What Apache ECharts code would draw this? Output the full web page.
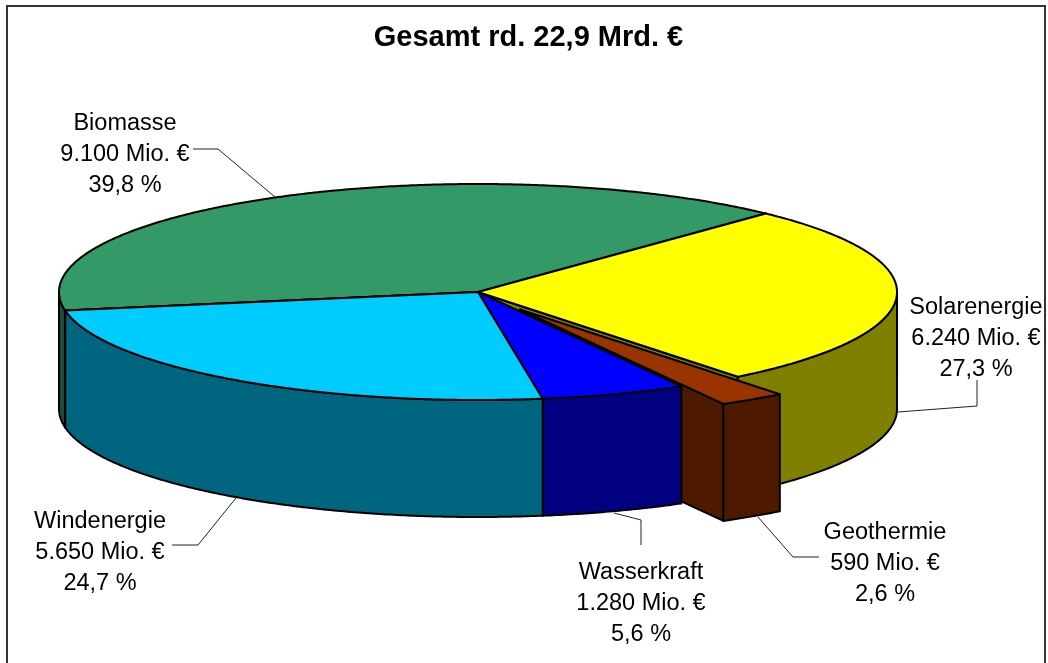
<!DOCTYPE html>
<html>
<head>
<meta charset="utf-8">
<style>html,body{margin:0;padding:0;background:#fff}#chart{width:1048px;height:663px}</style>
<script src="https://cdn.jsdelivr.net/npm/echarts@6/dist/echarts.min.js"></script>
</head>
<body>
<div id="chart"></div>
<script>
// Data
var titleText = 'Gesamt rd. 22,9 Mrd. €';
var categories = ['Biomasse', 'Solarenergie', 'Geothermie', 'Wasserkraft', 'Windenergie'];
var valuesMio = [9100, 6240, 590, 1280, 5650];
var exploded = [0, 0, 1, 0, 0];

// Styles
var topColors = ['#339966', '#FFFF00', '#993300', '#0000FF', '#00CCFF'];
var sideColors = ['#1A4D33', '#808000', '#4D1A00', '#000080', '#006680'];

// Layout of the projected pie
var cx = 478, cy = 292, rx = 419, ry = 108, depth = 117, startAngle = 189.9;
var explodeDx = 42, explodeDy = 17.5;
var labelPos = [[125, 155], [976, 339], [885, 564], [641, 604], [100, 553]];
var leaders = [
  [[193, 149], [218, 149], [275, 197]],
  [[977, 380], [977, 406], [898, 412]],
  [[819, 557], [793, 557], [758, 517]],
  [[641, 545], [641, 520], [614, 513]],
  [[172, 545], [198, 545], [236, 498]]
];

var total = valuesMio.reduce(function (a, b) { return a + b; }, 0);
function fmtValue(v) { return String(v).replace(/\B(?=(\d{3})+$)/g, '.') + ' Mio. €'; }
function fmtPct(v) { return (v / total * 100).toFixed(1).replace('.', ',') + ' %'; }

var slices = [];
(function () {
  var a = startAngle;
  valuesMio.forEach(function (v) {
    var b = a - v / total * 360;
    slices.push([a, b]);
    a = b;
  });
})();

function pt(deg, ox, oy) {
  var t = deg * Math.PI / 180;
  return [cx + ox + rx * Math.cos(t), cy + oy - ry * Math.sin(t)];
}
function arc(from, to, ox, oy) {
  var pts = [], n = Math.max(2, Math.ceil(Math.abs(from - to) / 0.5));
  for (var i = 0; i <= n; i++) pts.push(pt(from + (to - from) * i / n, ox, oy));
  return pts;
}
function down(points) {
  return points.map(function (p) { return [p[0], p[1] + depth]; });
}
function visibleRange(a, b) {
  // a > b, clockwise sweep; the rim is seen where the sine is negative
  var ranges = [[0, -180], [360, 180]], out = null;
  ranges.forEach(function (r) {
    var hi = Math.min(a, r[0]), lo = Math.max(b, r[1]);
    if (hi > lo) out = [hi, lo];
  });
  return out;
}
function poly(points, fill) {
  return {
    type: 'polygon',
    shape: { points: points },
    style: { fill: fill, stroke: '#000', lineWidth: 2, lineJoin: 'round' }
  };
}

var option = {
  animation: false,
  backgroundColor: '#fff',
  title: {
    text: titleText, left: 528, top: 18, textAlign: 'center',
    textStyle: { fontFamily: 'Liberation Sans', fontSize: 29, fontWeight: 'bold', color: '#000' }
  },
  graphic: [{
    type: 'rect', silent: true, z: 0,
    shape: { x: 7, y: 6, width: 1038, height: 720 },
    style: { fill: 'none', stroke: '#333', lineWidth: 2 }
  }],
  series: [{
    type: 'custom',
    coordinateSystem: 'none',
    silent: true,
    clip: false,
    data: valuesMio,
    renderItem: function (params) {
      var i = params.dataIndex, s = slices[i];
      var ox = exploded[i] ? explodeDx : 0, oy = exploded[i] ? explodeDy : 0;
      var apex = [cx + ox, cy + oy];
      var children = [];
      // cut face at the clockwise end of the slice
      var e = pt(s[1], ox, oy);
      children.push(poly([apex, e, [e[0], e[1] + depth], [apex[0], apex[1] + depth]], sideColors[i]));
      // visible part of the rim
      var v = visibleRange(s[0], s[1]);
      if (v) {
        var rim = arc(v[0], v[1], ox, oy);
        children.push(poly(rim.concat(down(rim).reverse()), sideColors[i]));
      }
      // top surface
      children.push(poly([apex].concat(arc(s[0], s[1], ox, oy)), topColors[i]));
      return { type: 'group', children: children };
    },
    z: 2
  }, {
    type: 'custom',
    coordinateSystem: 'none',
    silent: true,
    clip: false,
    data: categories,
    renderItem: function (params) {
      var i = params.dataIndex;
      return {
        type: 'group',
        children: [{
          type: 'polyline',
          shape: { points: leaders[i] },
          style: { fill: 'none', stroke: '#222', lineWidth: 1 }
        }, {
          type: 'text',
          style: {
            text: categories[i] + '\n' + fmtValue(valuesMio[i]) + '\n' + fmtPct(valuesMio[i]),
            x: labelPos[i][0], y: labelPos[i][1],
            align: 'center', verticalAlign: 'middle',
            fontFamily: 'Liberation Sans', fontSize: 23.5, lineHeight: 31, fill: '#000'
          }
        }]
      };
    },
    z: 3
  }]
};
option.title.left = 523.5;
var chart = echarts.init(document.getElementById('chart'), null, { renderer: 'canvas' });
chart.setOption(option);
</script>
</body>
</html>
